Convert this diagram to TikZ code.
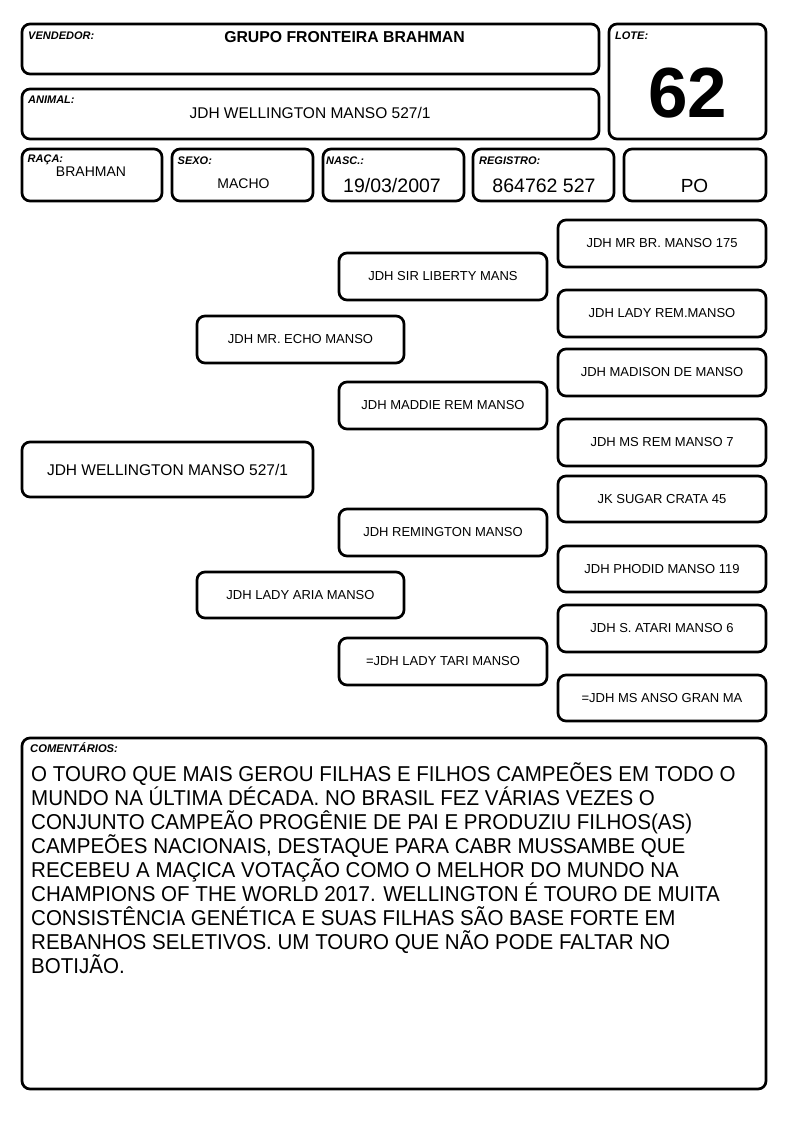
\documentclass[tikz,border=0pt]{standalone}
\usepackage{fontspec}
\setmainfont{Liberation Sans}
\newfontfamily\comfont[FakeStretch=0.955]{Liberation Sans}
\newcommand\fs[1]{\fontsize{#1}{#1}\selectfont}
\newcommand\rbox[7]{%
  \node[rbx,font=#7,minimum width={#4-#2},minimum height={#5-#3}] (#1) at ({(#2+#4)/2},{(#3+#5)/2}) {#6};}
\begin{document}
\begin{tikzpicture}[x=1pt,y=-1pt,
  rbx/.style={draw=black,line width=2.7pt,rounded corners=8pt,inner sep=0pt,align=center},
  lbl/.style={font=\fs{11}\bfseries\itshape,anchor=base west,inner sep=0pt},
  val/.style={anchor=base,inner sep=0pt}]
\useasboundingbox (0,0) rectangle (794,1123);
% header boxes
\rbox{vend}{22}{24}{599}{74}{}{}
\rbox{anim}{22}{89}{599}{139}{}{}
\rbox{lote}{609}{24}{766}{139}{}{}
\rbox{raca}{22}{149}{162}{201}{}{}
\rbox{sexo}{172}{149}{313}{201}{}{}
\rbox{nasc}{323}{149}{464}{201}{}{}
\rbox{regi}{473}{149}{614}{201}{}{}
\rbox{po}{624}{149}{766}{201}{}{}
% labels
\node[lbl] (lvend) at (28,39.5) {VENDEDOR:};
\node[lbl] (lanim) at (28,103.3) {ANIMAL:};
\node[lbl] (llote) at (615,39.5) {LOTE:};
\node[lbl] (lraca) at (27.5,162.5) {RAÇA:};
\node[lbl] (lsexo) at (177.5,165) {SEXO:};
\node[lbl] (lnasc) at (326,165) {NASC.:};
\node[lbl] (lregi) at (479,165) {REGISTRO:};
% values
\node[val,font=\fs{15.8}\bfseries] (tvend) at (344.5,43) {GRUPO FRONTEIRA BRAHMAN};
\node[val,font=\fs{15.5}] (tanim) at (310,119) {JDH WELLINGTON MANSO 527/1};
\node[val,font=\fs{71}\bfseries] (tlote) at (687.5,117.5) {62};
\node[val,font=\fs{14}] (traca) at (91,177) {BRAHMAN};
\node[val,font=\fs{14}] (tsexo) at (243.5,189) {MACHO};
\node[val,font=\fs{19.5}] (tnasc) at (392,193) {19/03/2007};
\node[val,font=\fs{19.5}] (tregi) at (544,193) {864762 527};
\node[val,font=\fs{19}] (tpo) at (694.5,193) {PO};
% pedigree
\rbox{p0}{22}{442}{313}{497}{JDH WELLINGTON MANSO 527/1}{\fs{15.5}}
\rbox{p1}{197}{316}{404}{363}{JDH MR. ECHO MANSO}{\fs{13}}
\rbox{p2}{197}{572}{404}{618}{JDH LADY ARIA MANSO}{\fs{13}}
\rbox{p3}{339}{253}{547}{300}{JDH SIR LIBERTY MANS}{\fs{13}}
\rbox{p4}{339}{382}{547}{429}{JDH MADDIE REM MANSO}{\fs{13}}
\rbox{p5}{339}{509}{547}{556}{JDH REMINGTON MANSO}{\fs{13}}
\rbox{p6}{339}{638}{547}{685}{=JDH LADY TARI MANSO}{\fs{13}}
\rbox{p7}{558}{220}{766}{267}{JDH MR BR. MANSO 175}{\fs{13}}
\rbox{p8}{558}{290}{766}{337}{JDH LADY REM.MANSO}{\fs{13}}
\rbox{p9}{558}{349}{766}{396}{JDH MADISON DE MANSO}{\fs{13}}
\rbox{p10}{558}{419}{766}{466}{JDH MS REM MANSO 7}{\fs{13}}
\rbox{p11}{558}{476}{766}{522}{JK SUGAR CRATA 45}{\fs{13}}
\rbox{p12}{558}{546}{766}{592}{JDH PHODID MANSO 119}{\fs{13}}
\rbox{p13}{558}{605}{766}{652}{JDH S. ATARI MANSO 6}{\fs{13}}
\rbox{p14}{558}{675}{766}{721}{=JDH MS ANSO GRAN MA}{\fs{13}}
% comments
\rbox{coment}{22}{738}{766}{1089}{}{}
\node[lbl,font=\fs{11.2}\bfseries\itshape] (lcom) at (30,752.5) {COMENTÁRIOS:};
\node[anchor=north west,inner sep=0pt,align=left,font=\comfont\fontsize{21.5}{24}\selectfont] (tcom) at (31,760) {\rule{0pt}{21pt}O TOURO QUE MAIS GEROU FILHAS E FILHOS CAMPEÕES EM TODO O\\
MUNDO NA ÚLTIMA DÉCADA. NO BRASIL FEZ VÁRIAS VEZES O\\
CONJUNTO CAMPEÃO PROGÊNIE DE PAI E PRODUZIU FILHOS(AS)\\
CAMPEÕES NACIONAIS, DESTAQUE PARA CABR MUSSAMBE QUE\\
RECEBEU A MAÇICA VOTAÇÃO COMO O MELHOR DO MUNDO NA\\
CHAMPIONS OF THE WORLD 2017. WELLINGTON É TOURO DE MUITA\\
CONSISTÊNCIA GENÉTICA E SUAS FILHAS SÃO BASE FORTE EM\\
REBANHOS SELETIVOS. UM TOURO QUE NÃO PODE FALTAR NO\\
BOTIJÃO.};
\end{tikzpicture}
\end{document}
